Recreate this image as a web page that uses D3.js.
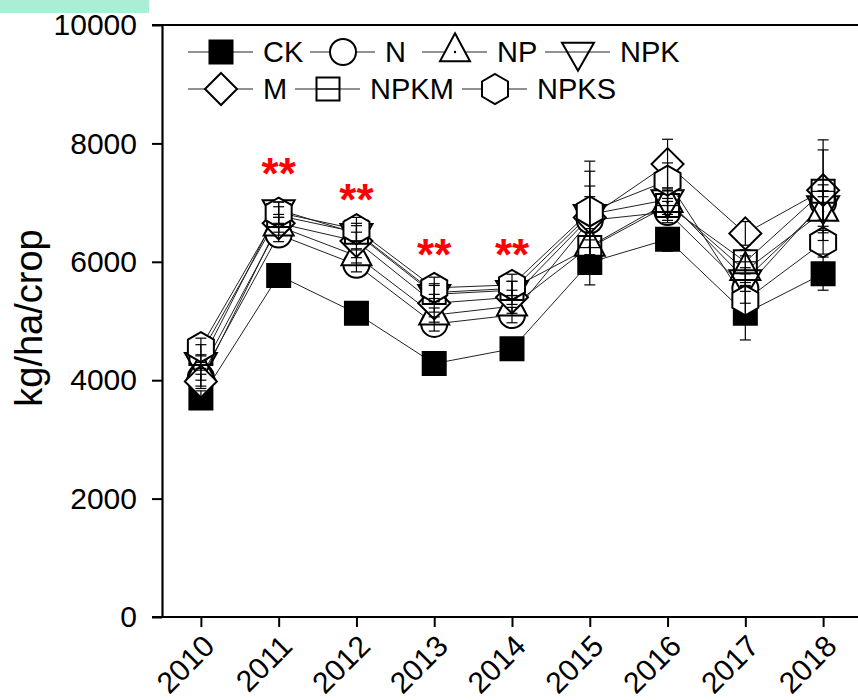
<!DOCTYPE html>
<html>
<head>
<meta charset="utf-8">
<script src="https://cdn.jsdelivr.net/npm/d3@7/dist/d3.min.js"></script>
<style>
  html, body { margin: 0; padding: 0; background: #fff; }
  svg { display: block; font-family: "Liberation Sans", Arial, sans-serif; }
</style>
</head>
<body>
<svg id="chart" width="858" height="700"></svg>
<script>
// Yield by treatment, 2010–2018 (kg/ha/crop)
const years = [2010, 2011, 2012, 2013, 2014, 2015, 2016, 2017, 2018];
const treatments = ["CK", "N", "NP", "NPK", "M", "NPKM", "NPKS"];

const ckMean   = [3700, 5770, 5130, 4280, 4530, 5990, 6380, 5130, 5800];
const nMean    = [4050, 6460, 5950, 4950, 5100, 6700, 6840, 5550, 7000];
const npMean   = [4150, 6600, 6100, 5100, 5250, 6260, 7000, 5850, 6850];
const npkMean  = [4300, 6880, 6480, 5450, 5520, 6800, 7050, 5700, 6950];
const mMean    = [3980, 6650, 6350, 5300, 5400, 6750, 7650, 6480, 7210];
const npkmMean = [4450, 6780, 6500, 5480, 5550, 6240, 6950, 6000, 7190];
const npksMean = [4560, 6830, 6550, 5560, 5610, 6850, 7370, 5350, 6330];

const ckSd   = [120, 100,  90, 100, 100, 380, 200, 450, 280];
const nSd    = [150, 120, 120, 120, 130, 580, 180, 250, 300];
const npSd   = [150, 150, 120, 120, 120, 300, 200, 250, 250];
const npkSd  = [130, 130, 130, 150, 150, 300, 200, 200, 250];
const mSd    = [120, 150, 150, 150, 120, 780, 420, 200, 850];
const npkmSd = [150, 150, 150, 150, 120, 250, 250, 200, 700];
const npksSd = [150, 180, 200, 180, 180, 850, 300, 300, 200];

// significance marks
const sigYears  = [2011, 2012, 2013, 2014];
const sigLabels = ["**", "**", "**", "**"];
const sigValues = [7630, 7200, 6260, 6260];

const yTicks = [0, 2000, 4000, 6000, 8000, 10000];

const means = [ckMean, nMean, npMean, npkMean, mMean, npkmMean, npksMean];
const sds   = [ckSd, nSd, npSd, npkSd, mSd, npkmSd, npksSd];
const shapes = ["square-filled", "circle", "triangle-dot", "triangle-down", "diamond", "square-cross", "hexagon"];

const series = treatments.map((name, i) => ({
  name, shape: shapes[i],
  values: years.map((yr, j) => ({ year: yr, mean: means[i][j], sd: sds[i][j] }))
}));

const svg = d3.select("#chart");

// header tab
svg.append("rect").attr("x", 0).attr("y", 0).attr("width", 149).attr("height", 13).attr("fill", "#a9eed5");

const x = d3.scaleLinear().domain([2009.5, 2018.5]).range([162, 862]);
const y = d3.scaleLinear().domain([0, 10000]).range([617, 25]);

// marker geometry
function shapePath(type) {
  switch (type) {
    case "square-filled":
    case "square-cross": {
      const s = 11.5;
      return `M${-s},${-s}H${s}V${s}H${-s}Z`;
    }
    case "circle":
      return d3.arc()({ innerRadius: 0, outerRadius: 13, startAngle: 0, endAngle: 2 * Math.PI });
    case "triangle-dot": {
      const w = 15, h = 28;
      return `M0,${-2 * h / 3}L${w},${h / 3}L${-w},${h / 3}Z`;
    }
    case "triangle-down": {
      const w = 16, h = 28;
      return `M0,${2 * h / 3}L${w},${-h / 3}L${-w},${-h / 3}Z`;
    }
    case "diamond": {
      const r = 16;
      return `M0,${-r}L${r},0L0,${r}L${-r},0Z`;
    }
    case "hexagon": {
      const w = 13, h = 15;
      return `M0,${-h}L${w},${-h / 2}L${w},${h / 2}L0,${h}L${-w},${h / 2}L${-w},${-h / 2}Z`;
    }
  }
}

function drawMarker(g, type) {
  g.append("path")
    .attr("d", shapePath(type))
    .attr("fill", type === "square-filled" ? "#000" : (type === "square-cross" || type === "triangle-down") ? "none" : "#fff")
    .attr("stroke", "#000")
    .attr("stroke-width", 2)
    .attr("stroke-linejoin", "miter");
  if (type === "triangle-dot") {
    g.append("circle").attr("r", 1.2).attr("fill", "#000");
  }
  if (type === "square-cross") {
    g.append("line").attr("x1", -11.5).attr("x2", 11.5).attr("y1", 0).attr("y2", 0)
      .attr("stroke", "#000").attr("stroke-width", 1.2);
  }
}

// axes
const yAxis = d3.axisLeft(y).tickValues(yTicks).tickSize(10).tickSizeOuter(0).tickPadding(15)
  .tickFormat(d3.format("d"));
const gy = svg.append("g").attr("transform", "translate(162,0)").call(yAxis);
gy.select(".domain").attr("stroke-width", 2.2);
gy.selectAll(".tick line").attr("stroke-width", 2);
gy.selectAll(".tick text").attr("font-size", 30).attr("fill", "#000")
  .attr("font-family", "Liberation Sans, Arial, sans-serif");

const xAxis = d3.axisBottom(x).tickValues(years).tickSize(10).tickSizeOuter(0)
  .tickFormat(d3.format("d"));
const gx = svg.append("g").attr("transform", "translate(0,617)").call(xAxis);
gx.select(".domain").attr("stroke-width", 2.2).attr("d", "M152,0H862");
gx.selectAll(".tick line").attr("stroke-width", 2);
gx.selectAll(".tick text")
  .attr("font-size", 30).attr("fill", "#000")
  .attr("font-family", "Liberation Sans, Arial, sans-serif")
  .attr("x", 0).attr("y", 0).attr("dy", null)
  .attr("text-anchor", "end")
  .attr("transform", "translate(15,31) rotate(-45)");

// top frame line
svg.append("line").attr("x1", 152).attr("x2", 862).attr("y1", y(10000)).attr("y2", y(10000))
  .attr("stroke", "#000").attr("stroke-width", 2.2);

// y axis title
svg.append("text")
  .attr("transform", "translate(42,318) rotate(-90)")
  .attr("text-anchor", "middle")
  .attr("font-size", 38)
  .attr("fill", "#000")
  .text("kg/ha/crop");

// series lines and markers
const line = d3.line().x(d => x(d.year)).y(d => y(d.mean));
const plot = svg.append("g");
series.forEach(s => {
  plot.append("path").datum(s.values).attr("d", line)
    .attr("fill", "none").attr("stroke", "#222").attr("stroke-width", 1);
});
series.forEach(s => {
  s.values.forEach(d => {
    const g = plot.append("g").attr("transform", `translate(${x(d.year)},${y(d.mean)})`);
    drawMarker(g, s.shape);
  });
});

// error bars
const eb = svg.append("g").attr("stroke", "#000").attr("stroke-width", 1.2);
series.forEach(s => {
  s.values.forEach(d => {
    const cx = x(d.year), y0 = y(d.mean - d.sd), y1 = y(d.mean + d.sd);
    eb.append("line").attr("x1", cx).attr("x2", cx).attr("y1", y0).attr("y2", y1);
    eb.append("line").attr("x1", cx - 5.5).attr("x2", cx + 5.5).attr("y1", y0).attr("y2", y0);
    eb.append("line").attr("x1", cx - 5.5).attr("x2", cx + 5.5).attr("y1", y1).attr("y2", y1);
  });
});

// significance marks
svg.append("g").selectAll("text").data(sigYears).join("text")
  .attr("x", d => x(d))
  .attr("y", (d, i) => y(sigValues[i]) + 24)
  .attr("text-anchor", "middle")
  .attr("font-size", 44)
  .attr("font-weight", "bold")
  .attr("fill", "#ff0000")
  .text((d, i) => sigLabels[i]);

// legend
const legendRows = [
  { y: 52, items: [0, 1, 2, 3], starts: [188, 310, 422, 545] },
  { y: 89, items: [4, 5, 6], starts: [188, 295, 462] }
];
const legend = svg.append("g");
legendRows.forEach(row => {
  row.items.forEach((idx, k) => {
    const x0 = row.starts[k];
    const g = legend.append("g").attr("transform", `translate(${x0},${row.y})`);
    g.append("line").attr("x1", 0).attr("x2", 65).attr("y1", 0).attr("y2", 0)
      .attr("stroke", "#222").attr("stroke-width", 1);
    const m = g.append("g").attr("transform", "translate(33,0)");
    drawMarker(m, series[idx].shape);
    g.append("text").attr("x", 75).attr("y", 10)
      .attr("font-size", 29).attr("fill", "#000")
      .text(series[idx].name);
  });
});
</script>
</body>
</html>
